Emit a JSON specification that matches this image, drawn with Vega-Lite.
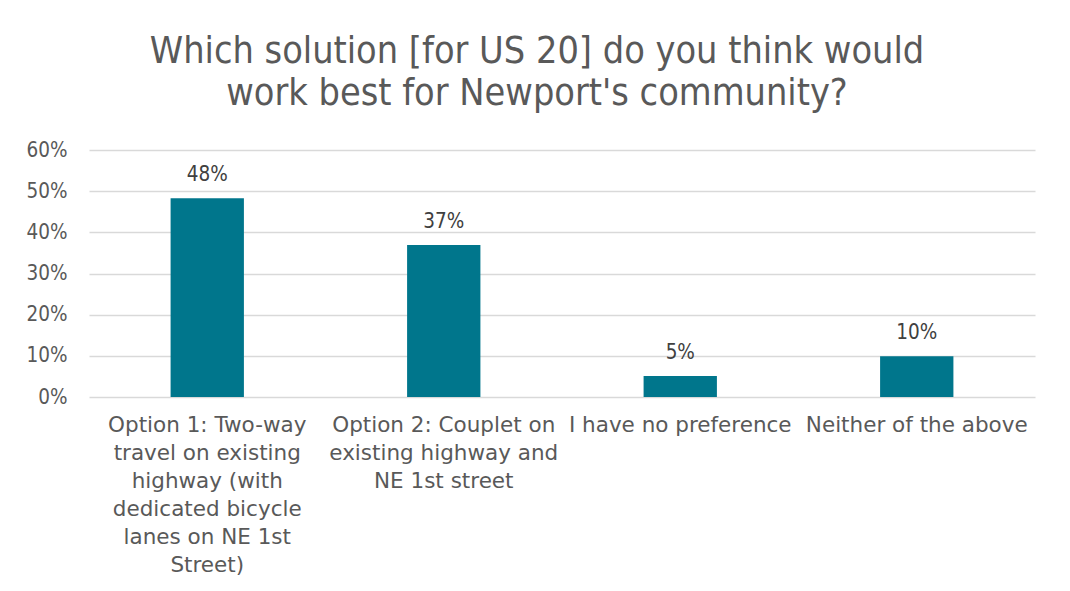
{
  "$schema": "https://vega.github.io/schema/vega-lite/v6.json",
  "width": 946,
  "height": 247,
  "autosize": {"type": "none"},
  "padding": {"left": 89, "top": 150, "right": 35, "bottom": 194},
  "background": "white",
  "title": {
    "text": ["Which solution [for US 20] do you think would", "work best for Newport's community?"],
    "font": "DejaVu Sans Condensed, Open Sans",
    "fontSize": 37.5,
    "fontWeight": "normal",
    "color": "#595959",
    "lineHeight": 42,
    "anchor": "middle",
    "dx": -25,
    "offset": 28
  },
  "data": {
    "values": [
      {"option": "Option 1: Two-way travel on existing highway (with dedicated bicycle lanes on NE 1st Street)", "share": 0.483},
      {"option": "Option 2: Couplet on existing highway and NE 1st street", "share": 0.369},
      {"option": "I have no preference", "share": 0.051},
      {"option": "Neither of the above", "share": 0.099}
    ]
  },
  "config": {
    "view": {"stroke": null}
  },
  "layer": [
    {
      "mark": {"type": "bar", "color": "#00768C"},
      "encoding": {
        "x": {
          "field": "option",
          "type": "nominal",
          "sort": null,
          "scale": {"paddingInner": 0.69, "paddingOuter": 0.345},
          "axis": {
            "title": null,
            "labelAngle": 0,
            "labelFont": "DejaVu Sans",
            "labelFontSize": 21.5,
            "labelColor": "#595959",
            "labelLineHeight": 28,
            "labelLimit": 0,
            "labelPadding": 17,
            "labelBaseline": "top",
            "domain": false,
            "ticks": false,
            "labelExpr": "datum.value == 'Option 1: Two-way travel on existing highway (with dedicated bicycle lanes on NE 1st Street)' ? ['Option 1: Two-way','travel on existing','highway (with','dedicated bicycle','lanes on NE 1st','Street)'] : datum.value == 'Option 2: Couplet on existing highway and NE 1st street' ? ['Option 2: Couplet on','existing highway and','NE 1st street'] : datum.label"
          }
        },
        "y": {
          "field": "share",
          "type": "quantitative",
          "scale": {"domain": [0, 0.6]},
          "axis": {
            "title": null,
            "format": ".0%",
            "values": [0, 0.1, 0.2, 0.3, 0.4, 0.5, 0.6],
            "labelFont": "DejaVu Sans Condensed, Open Sans",
            "labelFontSize": 20.5,
            "labelColor": "#595959",
            "labelPadding": 22,
            "domain": false,
            "ticks": false,
            "gridColor": "#d9d9d9",
            "gridWidth": 1.5
          }
        }
      }
    },
    {
      "mark": {"type": "text", "font": "DejaVu Sans Condensed, Open Sans", "fontSize": 20.5, "color": "#404040", "baseline": "alphabetic", "dy": -17},
      "encoding": {
        "x": {"field": "option", "type": "nominal", "sort": null},
        "y": {"field": "share", "type": "quantitative"},
        "text": {"field": "share", "type": "quantitative", "format": ".0%"}
      }
    }
  ]
}
